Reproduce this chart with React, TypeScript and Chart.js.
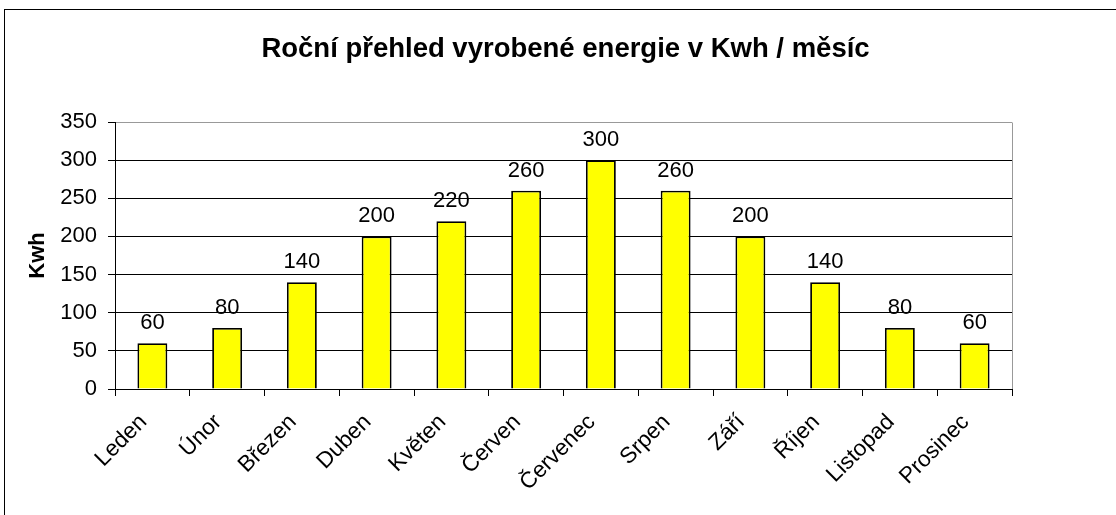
import React, { useEffect, useRef } from "react";
import { Chart, registerables } from "chart.js";

Chart.register(...registerables);

const months = [
  "Leden", "Únor", "Březen", "Duben", "Květen", "Červen",
  "Červenec", "Srpen", "Září", "Říjen", "Listopad", "Prosinec",
];
const energyKwh = [60, 80, 140, 200, 220, 260, 300, 260, 200, 140, 80, 60];
const chartTitle = "Roční přehled vyrobené energie v Kwh / měsíc";
const yAxisTitle = "Kwh";
const yMin = 0;
const yMax = 350;
const yStep = 50;

const FONT = "'Liberation Sans', Arial, sans-serif";

const frameAndLabels = {
  id: "frameAndLabels",
  beforeDraw(chart: any) {
    const { ctx } = chart;
    ctx.save();
    ctx.fillStyle = "#fff";
    ctx.fillRect(0, 0, chart.width, chart.height);
    ctx.strokeStyle = "#000";
    ctx.lineWidth = 1;
    ctx.strokeRect(4.5, 9.5, chart.width + 50, chart.height + 50);
    ctx.restore();
  },
  afterDatasetsDraw(chart: any) {
    const { ctx, chartArea } = chart;
    ctx.save();
    ctx.strokeStyle = "#999";
    ctx.lineWidth = 1;
    ctx.beginPath();
    const rx = Math.round(chartArea.right) + 0.5;
    ctx.moveTo(rx, Math.round(chartArea.top) + 0.5);
    ctx.lineTo(rx, Math.round(chartArea.bottom));
    ctx.stroke();
    const meta = chart.getDatasetMeta(0);
    const data = chart.data.datasets[0].data;
    ctx.fillStyle = "#000";
    ctx.font = `22px ${FONT}`;
    ctx.textAlign = "center";
    ctx.textBaseline = "alphabetic";
    meta.data.forEach((bar: any, i: number) => {
      ctx.fillText(String(data[i]), bar.x, bar.y - 14);
    });
    ctx.restore();
  },
};

export default function App() {
  const canvasRef = useRef<HTMLCanvasElement | null>(null);

  useEffect(() => {
    if (!canvasRef.current) return;
    const chart = new Chart(canvasRef.current, {
      type: "bar",
      data: {
        labels: months,
        datasets: [
          {
            data: energyKwh,
            backgroundColor: "#ffff00",
            borderColor: "#000",
            borderWidth: 1.8,
            barPercentage: 0.4,
            categoryPercentage: 1,
          },
        ],
      },
      options: {
        animation: false,
        responsive: true,
        maintainAspectRatio: false,
        layout: { padding: { left: 15, right: 0, top: 0, bottom: 0 } },
        plugins: {
          legend: { display: false },
          tooltip: { enabled: false },
          title: {
            display: true,
            text: chartTitle,
            color: "#000",
            font: { family: FONT, size: 27.5, weight: "bold" },
            padding: { top: 33, bottom: 56 },
          },
        },
        scales: {
          x: {
            grid: {
              display: true,
              drawOnChartArea: false,
              drawTicks: true,
              tickLength: 7,
              offset: true,
              color: "#000",
              tickColor: "#000",
            },
            border: { display: true, color: "#000", width: 1 },
            ticks: {
              color: "#000",
              font: { family: FONT, size: 22.5 },
              minRotation: 45,
              maxRotation: 45,
              autoSkip: false,
              padding: 13,
              labelOffset: -9,
            },
            afterFit(scale: any) {
              scale.height = 126;
            },
          },
          y: {
            min: yMin,
            max: yMax,
            ticks: {
              stepSize: yStep,
              color: "#000",
              font: { family: FONT, size: 22 },
              padding: 11,
            },
            grid: {
              color: (c: any) => (c.tick && c.tick.value === yMax ? "#999" : "#000"),
              tickColor: "#000",
              tickLength: 7,
              drawTicks: true,
            },
            border: { display: true, color: "#000", width: 1 },
            title: {
              display: true,
              text: yAxisTitle,
              color: "#000",
              font: { family: FONT, size: 22, weight: "bold" },
              padding: { top: 10, bottom: 0 },
            },
            afterFit(scale: any) {
              scale.width = 100;
            },
          },
          y2: {
            type: "linear",
            position: "right",
            display: true,
            grid: { display: false },
            border: { display: false },
            ticks: { display: false },
            afterFit(scale: any) {
              scale.width = 104;
            },
          },
        },
      },
      plugins: [frameAndLabels],
    });
    return () => chart.destroy();
  }, []);

  return (
    <div style={{ position: "fixed", left: 0, top: 0, width: 1116, height: 515, background: "#fff" }}>
      <canvas ref={canvasRef} />
    </div>
  );
}
